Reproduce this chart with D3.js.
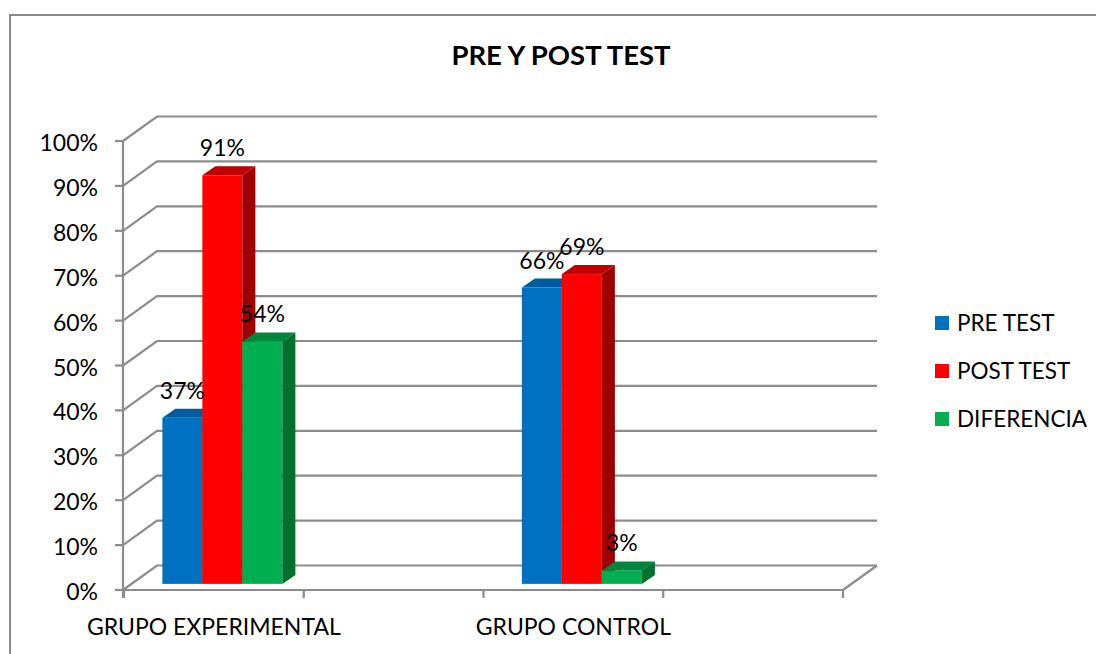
<!DOCTYPE html>
<html>
<head>
<meta charset="UTF-8" />
<title>PRE Y POST TEST</title>
<script src="https://d3js.org/d3.v7.min.js"></script>
<style>
  body { margin: 0; background: #fff; }
  text { font-family: Lato, "Open Sans", sans-serif; fill: #000; }
</style>
</head>
<body>
<script type="text/javascript">

// data
var categories = ["GRUPO EXPERIMENTAL", "", "GRUPO CONTROL", ""]
var series = ["PRE TEST", "POST TEST", "DIFERENCIA"]
var preTest = [0.37, null, 0.66, null]
var postTest = [0.91, null, 0.69, null]
var diferencia = [0.54, null, 0.03, null]
var yTicks = [0, 0.1, 0.2, 0.3, 0.4, 0.5, 0.6, 0.7, 0.8, 0.9, 1.0]

var values = [preTest, postTest, diferencia]
var fronts = ["#0070C0", "#FF0000", "#00B050"]
var tops = ["#005C9E", "#C00000", "#00873D"]
var sides = ["#004F88", "#9C0000", "#00702F"]

var width = 1096
var height = 654

var svg = d3.select("body").append("svg")
    .attr("width", width)
    .attr("height", height)

// chart area border (runs off the right and bottom)
svg.append("rect")
    .attr("x", 10).attr("y", 15)
    .attr("width", 1200).attr("height", 800)
    .attr("fill", "none").attr("stroke", "#8a8a8a").attr("stroke-width", 2)

svg.append("text")
    .attr("x", 561).attr("y", 65)
    .attr("text-anchor", "middle")
    .style("font-size", "27.5px").style("font-weight", "bold")
    .text("PRE Y POST TEST")

// depth of the 3d box
var depthX = 34, depthY = -24.5
var y = d3.scaleLinear().domain([0, 1]).range([590, 141])
var x = d3.scaleBand().domain(d3.range(categories.length)).range([124, 843])
var xs = d3.scaleBand().domain(d3.range(series.length)).range([0, 120])

var grid = "#8c8c8c"
var g = svg.append("g")

// walls: side diagonal + back gridline
yTicks.forEach(function(t) {
    g.append("path")
        .attr("d", d3.line()([[123, y(t)], [123 + depthX, y(t) + depthY], [843 + depthX, y(t) + depthY]]))
        .attr("fill", "none").attr("stroke", grid).attr("stroke-width", 2.2)
})
// floor right edge
g.append("path")
    .attr("d", d3.line()([[843, y(0)], [843 + depthX, y(0) + depthY]]))
    .attr("stroke", grid).attr("stroke-width", 2.2)

// value axis
g.append("line").attr("x1", 123).attr("x2", 123).attr("y1", y(1)).attr("y2", y(0) + 8)
    .attr("stroke", grid).attr("stroke-width", 2.2)
yTicks.forEach(function(t) {
    g.append("line").attr("x1", 115).attr("x2", 123).attr("y1", y(t)).attr("y2", y(t))
        .attr("stroke", grid).attr("stroke-width", 2.2)
    svg.append("text")
        .attr("x", 98).attr("y", y(t) + 10)
        .attr("text-anchor", "end")
        .style("font-size", "23px")
        .text(d3.format(".0%")(t))
})

// category axis
g.append("line").attr("x1", 123).attr("x2", 843).attr("y1", y(0)).attr("y2", y(0))
    .attr("stroke", grid).attr("stroke-width", 2.2)
d3.range(categories.length + 1).forEach(function(i) {
    var tx = 124 + i * x.bandwidth()
    g.append("line").attr("x1", tx).attr("x2", tx).attr("y1", y(0)).attr("y2", y(0) + 8)
        .attr("stroke", grid).attr("stroke-width", 2.2)
})
categories.forEach(function(c, i) {
    svg.append("text")
        .attr("x", x(i) + x.bandwidth() / 2).attr("y", 635)
        .attr("text-anchor", "middle")
        .style("font-size", "23px")
        .text(c)
})

// bars: front face sits a quarter into the depth, bar depth 13 x 9
var fx = depthX * 0.25, fy = depthY * 0.25
var bdx = 13, bdy = -9
var bars = svg.append("g")
categories.forEach(function(c, i) {
    var gx = x(i) + (x.bandwidth() - 120) / 2 + fx
    series.forEach(function(s, k) {
        var v = values[k][i]
        if (v == null) return
        var x0 = gx + xs(k), x1 = x0 + xs.bandwidth()
        var yb = y(0) + fy, yt = y(v) + fy
        bars.append("rect")
            .attr("x", x0).attr("y", yt).attr("width", x1 - x0).attr("height", yb - yt)
            .attr("fill", fronts[k])
        bars.append("path")
            .attr("d", d3.line()([[x0, yt], [x0 + bdx, yt + bdy], [x1 + bdx, yt + bdy], [x1, yt]]) + "Z")
            .attr("fill", tops[k])
        bars.append("path")
            .attr("d", d3.line()([[x1, yt], [x1 + bdx, yt + bdy], [x1 + bdx, yb + bdy], [x1, yb]]) + "Z")
            .attr("fill", sides[k])
    })
})
// labels on top so they are not hidden by later bars
categories.forEach(function(c, i) {
    var gx = x(i) + (x.bandwidth() - 120) / 2 + fx
    series.forEach(function(s, k) {
        var v = values[k][i]
        if (v == null) return
        svg.append("text")
            .attr("x", gx + xs(k) + xs.bandwidth() / 2)
            .attr("y", y(v) + fy - 19)
            .attr("text-anchor", "middle")
            .style("font-size", "23px")
            .text(d3.format(".0%")(v))
    })
})

// legend
var legend = svg.append("g")
series.forEach(function(s, k) {
    var ly = 323 + k * 48
    legend.append("rect").attr("x", 935).attr("y", ly - 7).attr("width", 14).attr("height", 14)
        .attr("fill", fronts[k])
    legend.append("text").attr("x", 957).attr("y", ly + 8)
        .style("font-size", "22.5px")
        .text(s)
})

</script>
</body>
</html>
